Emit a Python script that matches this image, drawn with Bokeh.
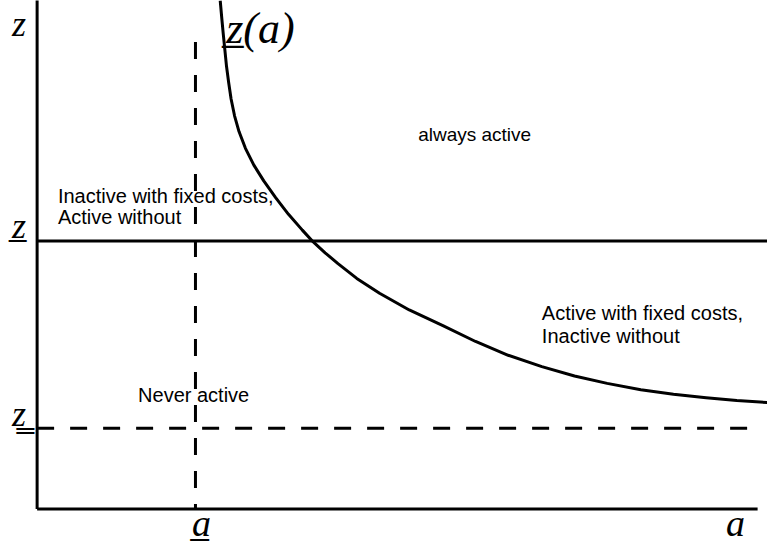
from bokeh.plotting import figure
from bokeh.models import Range1d
from bokeh.core.properties import value
from bokeh.embed import file_html
from bokeh.resources import INLINE

# ---- data (arbitrary units) ----
curve_a = [18.5, 18.65, 18.8, 18.97, 19.14, 19.35, 19.6, 19.95, 20.4, 21.05, 21.9,
           22.9, 24.1, 25.4, 26.8, 27.9, 29.1, 30.4, 32.3, 34.6, 37.6, 41.0,
           44.3, 47.6, 51.0, 54.3, 57.6, 61.0, 64.3, 67.6, 70.7, 73.8]
curve_z = [51.6, 49.9, 48.3, 46.6, 44.9, 43.3, 41.6, 39.9, 38.3, 36.6, 34.9,
           33.3, 31.6, 29.9, 28.3, 27.1, 26.0, 24.9, 23.4, 21.9, 20.2, 18.6,
           17.0, 15.6, 14.45, 13.5, 12.75, 12.1, 11.65, 11.3, 11.0, 10.8]

z_bar = 27.2        # solid horizontal threshold
z_low = 8.2         # dashed horizontal threshold
a_low = 16.0        # dashed vertical threshold
a_max = 72.8        # end of horizontal axis
z_max = 52.0        # top of vertical axis
a_dash_end = 71.8   # end of dashed horizontal line
z_dash_top = 47.4   # top of dashed vertical line
a_right = 73.8      # right edge
z_axis_label = 49.3 # vertical axis title position

region_text = ["Inactive with fixed costs,", "Active without",
               "Active with fixed costs,", "Inactive without",
               "Never active"]
region_x = [2.1, 2.1, 51.0, 51.0, 10.2]
region_z = [31.75, 29.65, 19.85, 17.55, 11.55]

top_text = ["always active"]
top_x = [38.5]
top_z = [38.0]

curve_label = "z\u0332(a)"
curve_label_a = 19.1
curve_label_z = 47.4

p = figure(width=767, height=544, output_backend="svg", toolbar_location=None,
           x_range=Range1d(-3.7, 73.8), y_range=Range1d(-3.6, 51.6),
           min_border=0, min_border_left=0, min_border_right=0,
           min_border_top=0, min_border_bottom=0)
p.axis.visible = False
p.grid.visible = False
p.outline_line_color = None
p.background_fill_color = "white"
p.border_fill_color = "white"

sans = value("Liberation Sans")
serif = value("Liberation Serif")

# region texts (drawn first so lines pass over them)
p.text(x=region_x, y=region_z, text=region_text, text_font=sans,
       text_font_size="20px", text_color="black", text_baseline="alphabetic",
       text_align="left")
p.text(x=top_x, y=top_z, text=top_text, text_font=sans,
       text_font_size="19px", text_color="black", text_baseline="alphabetic",
       text_align="left")

# axes
p.segment(x0=[0, 0], y0=[0, 0], x1=[0, a_max], y1=[z_max, 0],
          line_color="black", line_width=3)

# thresholds
p.line(x=[0, a_right], y=[z_bar, z_bar], line_color="black", line_width=3)
p.line(x=[0, a_dash_end], y=[z_low, z_low], line_color="black", line_width=3,
       line_dash="17 16")
p.line(x=[a_low, a_low], y=[z_dash_top, 0], line_color="black", line_width=3,
       line_dash="17 16")

# curve z(a)
p.line(x=curve_a, y=curve_z, line_color="black", line_width=3,
       line_join="round")

# math labels
lab_kw = dict(text_font=serif, text_font_style="italic",
              text_color="black", text_baseline="alphabetic")
p.text(x=[0], y=[z_axis_label], text=["z"], x_offset=-25, y_offset=1,
       text_align="left", text_font_size="36px", **lab_kw)
p.text(x=[0], y=[z_bar], text=["z\u0332"], x_offset=-25, y_offset=-15,
       text_align="left", text_font_size="36px", **lab_kw)
p.text(x=[0], y=[z_low], text=["z\u0333"], x_offset=-25, y_offset=-14,
       text_align="left", text_font_size="36px", **lab_kw)
p.text(x=[a_low], y=[0], text=["a\u0332"], x_offset=6, y_offset=14,
       text_align="center", text_font_size="38px", **lab_kw)
p.text(x=[a_max], y=[0], text=["a"], x_offset=-22, y_offset=14,
       text_align="center", text_font_size="38px", **lab_kw)
p.text(x=[curve_label_a], y=[curve_label_z], text=[curve_label], y_offset=-13,
       text_align="left", text_font_size="44px", **lab_kw)

open("out.html", "w").write(file_html(p, INLINE))
